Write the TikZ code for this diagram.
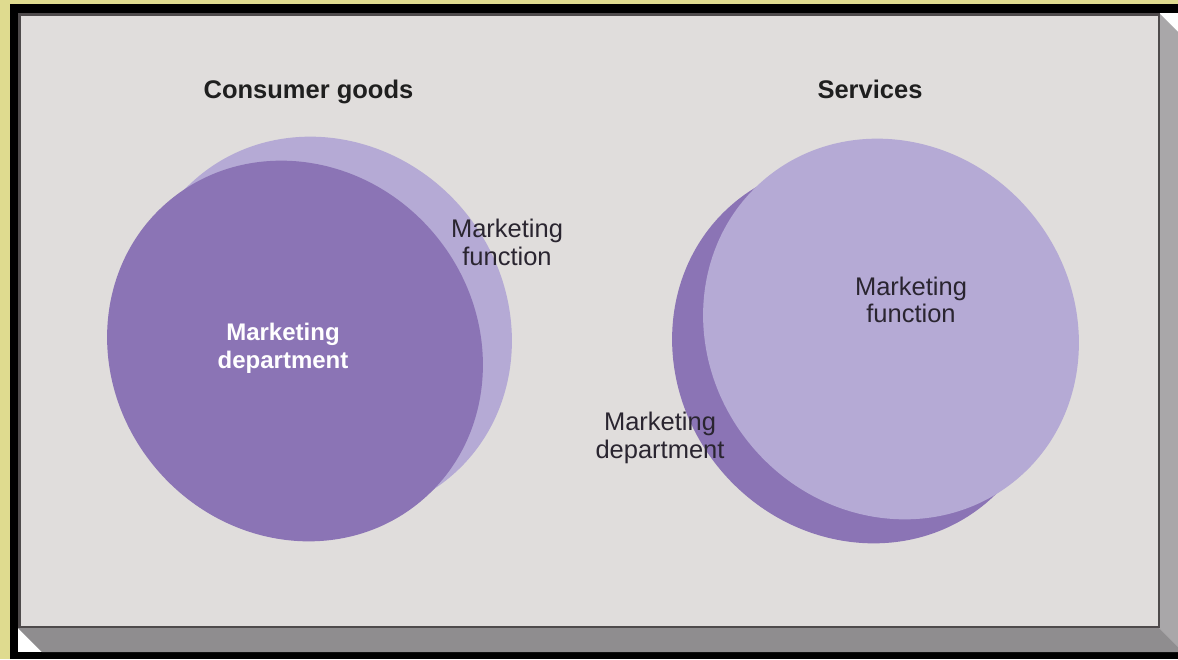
\documentclass[tikz,border=0pt]{standalone}
\usepackage{fontspec}
\setmainfont{Liberation Sans}
\usetikzlibrary{shapes.geometric}

\definecolor{frameyellow}{HTML}{DFDB8F}
\definecolor{panelgray}{HTML}{E0DDDC}
\definecolor{paneledge}{HTML}{4E4A4B}
\definecolor{bevelright}{HTML}{A9A7A9}
\definecolor{bevelbottom}{HTML}{8F8D8F}
\definecolor{deptpurple}{HTML}{8B74B5}
\definecolor{funcpurple}{HTML}{B5AAD5}
\definecolor{labeltext}{HTML}{2A2530}
\definecolor{titletext}{HTML}{1F1F1F}

\begin{document}
\begin{tikzpicture}[x=1pt,y=-1pt,
  disc/.style={ellipse, inner sep=0pt, draw=none, minimum width=392pt, minimum height=364pt, rotate=-50},
  title/.style={font=\fontsize{25.5}{30}\selectfont\bfseries, text=titletext, anchor=base, inner sep=0pt},
  plainlabel/.style={font=\fontsize{25.5}{28}\selectfont, text=labeltext, align=center, inner sep=0pt},
  boldlabel/.style={font=\fontsize{24}{28}\selectfont\bfseries, text=white, align=center, inner sep=0pt}]

  \useasboundingbox (0,0) rectangle (1178,659);

  % outer frame
  \fill[frameyellow] (0,0) rectangle (1178,659);
  \fill[black] (10,4) rectangle (1178,659);
  \fill[white] (18,13) rectangle (1178,652);

  % bevelled sides of the panel
  \fill[bevelright] (1159,13) -- (1178,32) -- (1178,647) -- (1159,628) -- cycle;
  \fill[bevelbottom] (18,628) -- (1159,628) -- (1178,647) -- (1178,652) -- (42,652) -- cycle;

  % front face
  \filldraw[fill=panelgray, draw=paneledge, line width=2.5pt]
    (19.25,14.25) rectangle (1158.75,626.75);

  % consumer goods: department covers most of the function
  \node[disc, fill=funcpurple] (cgFunc) at (324,327) {};
  \node[disc, fill=deptpurple] (cgDept) at (295,351) {};

  % services: function covers most of the department
  \node[disc, fill=deptpurple] (svDept) at (860,353) {};
  \node[disc, fill=funcpurple] (svFunc) at (891,329) {};

  % titles
  \node[title] (cgTitle) at (308.5,98) {Consumer goods};
  \node[title] (svTitle) at (870,98) {Services};

  % labels
  \node[boldlabel] (cgDeptText) at (283,348) {Marketing\\department};
  \node[plainlabel] (cgFuncText) at (507,242) {Marketing\\function};
  \node[plainlabel, font=\fontsize{25.5}{27}\selectfont] (svFuncText) at (911,300) {Marketing\\function};
  \node[plainlabel] (svDeptText) at (660,438) {Marketing\\department};
\end{tikzpicture}
\end{document}
